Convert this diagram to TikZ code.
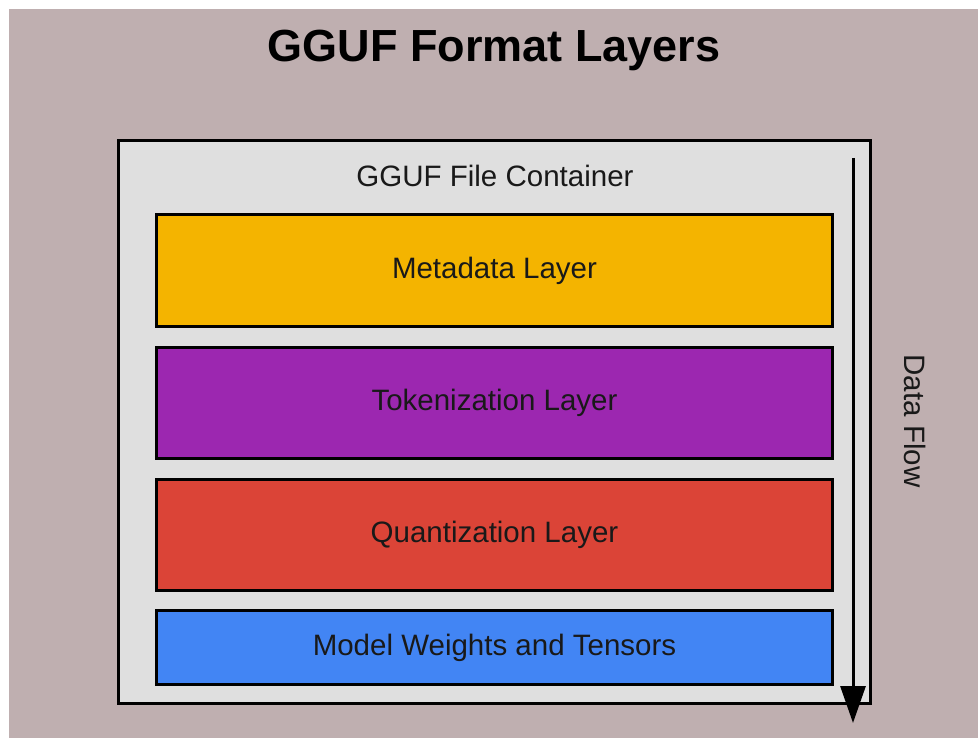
\documentclass[tikz,border=0pt]{standalone}
\usepackage{fontspec}
\setmainfont{Liberation Sans}
\usetikzlibrary{positioning,arrows.meta}

\definecolor{bgmauve}{HTML}{BFAFB0}
\definecolor{boxgray}{HTML}{DFDFDF}
\definecolor{metayellow}{HTML}{F4B400}
\definecolor{tokpurple}{HTML}{9C27B0}
\definecolor{quantred}{HTML}{DB4437}
\definecolor{weightblue}{HTML}{4285F4}

\tikzset{
  layerbox/.style={draw=black, line width=3pt, minimum width=676pt,
    text=black!90, font=\fontsize{29.5}{34}\selectfont, inner sep=0pt},
}

\begin{document}
\begin{tikzpicture}[x=1pt, y=-1pt, node distance=18pt]
        \useasboundingbox[fill=white] (0,0) rectangle (978,738);
        \fill[bgmauve] (9,9) rectangle (978,738);
        \node[font=\fontsize{45}{52}\selectfont\bfseries, anchor=base] (title)
          at (494,62) {GGUF Format Layers};
        \node[draw=black, fill=boxgray, line width=3pt, minimum width=752pt,
          minimum height=563pt, inner sep=0pt] (container) at (494.5,422) {};
        \node[font=\fontsize{29.5}{34}\selectfont, text=black!90, anchor=base]
          (containerlabel) at (495,187) {GGUF File Container};
        \node[layerbox, fill=metayellow, minimum height=112pt] (metadata)
          at (494.5,270.5) {Metadata Layer};
        \node[layerbox, fill=tokpurple, minimum height=111pt,
          below=of metadata] (tokenization) {Tokenization Layer};
        \node[layerbox, fill=quantred, minimum height=111pt,
          below=of tokenization] (quantization) {Quantization Layer};
        \node[layerbox, fill=weightblue, minimum height=74pt,
          below=17pt of quantization] (weights) {Model Weights and Tensors};
        % flow arrow at the right side
        \coordinate (flowtop) at (853,158);
        \coordinate (flowend) at (853,723);
        \draw[line width=3pt, -{Triangle[width=25pt,length=37pt]}] (flowtop) -- (flowend);
        \node[rotate=-90, font=\fontsize{29.5}{34}\selectfont, text=black!90] (flowlabel)
          at (915,421) {Data Flow};
      \end{tikzpicture}
\end{document}
